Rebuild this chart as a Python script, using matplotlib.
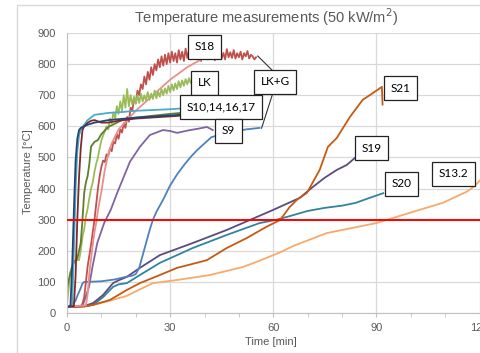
import numpy as np
import matplotlib
matplotlib.use("Agg")
import matplotlib.pyplot as plt
from matplotlib.patches import Rectangle

# ---- data (time in min, temperature in degC) ----
navy_t = [0, 1, 1.5, 2, 2.5, 3, 3.5, 4, 5, 6, 8, 12, 20, 30, 34]
navy_T = [20, 22, 150, 330, 490, 560, 588, 595, 600, 605, 612, 620, 628, 635, 638]

maroon_t = [0, 2, 2.5, 3, 3.5, 4, 4.5, 5, 6, 7, 8, 9, 10, 12, 15, 20, 30, 34]
maroon_T = [20, 22, 120, 300, 437, 530, 588, 600, 611, 618, 620, 616, 612, 612, 618, 625, 632, 635]

cyan_t = [0, 1.5, 2, 2.5, 3, 3.5, 4, 5, 6, 8, 10, 12, 16, 20, 30, 34]
cyan_T = [20, 25, 200, 400, 520, 570, 590, 605, 620, 637, 640, 643, 646, 650, 655, 658]

olive_t = [0, 1, 2, 2.5, 3, 4, 4.5, 5, 5.5, 6, 6.5, 7, 8, 9, 10, 12, 16, 20, 30, 35]
olive_T = [80, 130, 165, 170, 175, 225, 300, 386, 420, 440, 480, 535, 550, 556, 575, 598, 620, 628, 640, 645]

# LK, sampled every 0.5 min from t = 0
lk_T = [30, 80, 130, 150, 160, 165, 170, 170, 200, 245, 270, 310, 335, 370, 400, 420,
        455, 480, 500, 530, 555, 570, 585, 600, 590, 625, 610, 645, 625, 665, 640, 680,
        650, 700, 660, 720, 665, 700, 670, 695, 672, 700, 675, 705, 680, 700, 683, 710,
        685, 705, 688, 715, 690, 712, 695, 720, 700, 722, 705, 730, 710, 735, 715, 738,
        720, 745, 725, 748, 730, 752, 735, 755, 740]

# S18, sampled every 0.5 min from t = 0
s18_T = [20, 20, 20, 20, 20, 20, 21, 21, 22, 30, 50, 100, 150, 185, 220, 260,
         300, 350, 400, 440, 470, 490, 485, 510, 505, 530, 520, 550, 545, 575, 560, 590,
         580, 610, 595, 630, 615, 660, 650, 690, 675, 715, 700, 735, 720, 760, 735, 775,
         750, 790, 765, 800, 780, 815, 790, 825, 795, 830, 800, 835, 805, 840, 810, 835,
         805, 845, 815, 840, 810, 850, 820, 845, 815, 840, 820, 848, 815, 835, 810, 840,
         818, 835, 815, 842, 820, 838, 812, 845, 825, 840, 818, 836, 815, 848, 822, 838,
         820, 845, 818, 835, 822, 840, 815, 835, 825, 842, 818, 830, 825, 815, 822]

salmon_t = [0, 5.5, 6, 6.5, 7, 7.5, 8, 8.5, 9, 10, 11, 12, 13, 15, 20, 25, 30, 35, 39]
salmon_T = [20, 25, 60, 130, 175, 220, 260, 290, 330, 390, 460, 510, 545, 590, 650, 700, 750, 790, 815]

blue_t = [0, 1.5, 2.5, 3, 4, 4.5, 5, 6, 10, 14, 17, 19, 20, 21, 22, 23, 24, 25, 26, 28,
          30, 32, 34, 36, 38, 40, 42, 45, 48, 52, 56]
blue_T = [20, 25, 40, 55, 80, 95, 100, 100, 102, 108, 116, 120, 125, 145, 185, 225, 265, 300, 325, 365,
          410, 445, 475, 502, 525, 545, 565, 575, 582, 590, 595]

s9_t = [0, 4.5, 5.4, 6.4, 7.4, 8.8, 10.8, 12.7, 14.6, 16.6, 18.3, 21.2, 24.1, 27.9, 30, 32, 35.8, 38, 40.7, 42.4]
s9_T = [20, 22, 51, 84, 148, 225, 289, 331, 386, 440, 486, 534, 572, 588, 585, 579, 588, 592, 598, 588]

s19_t = [0, 5, 7.6, 10.5, 13.4, 15, 17.4, 21.2, 27, 36.6, 46.5, 53.2, 59.9, 67.7, 71.5, 75, 78.5, 81.4, 83.7]
s19_T = [20, 22, 32, 58, 96, 105, 116, 145, 186, 225, 267, 299, 331, 370, 405, 435, 460, 476, 498]

s20_t = [0, 5, 7.6, 10.5, 13.4, 15, 17.4, 21.2, 27, 36.6, 46.5, 56, 61, 65, 70, 75, 80, 84, 88, 92]
s20_T = [20, 22, 26, 51, 84, 92, 96, 122, 161, 209, 251, 289, 300, 312, 328, 338, 345, 354, 370, 385]

s21_t = [0, 5, 7.6, 12.5, 17.4, 21.2, 27, 32, 38.7, 40.7, 46.5, 52.3, 58, 62, 64.8, 67, 69.8,
         71.5, 73.5, 75.9, 78.5, 82.3, 86, 89, 91.6, 91.8]
s21_T = [20, 21, 26, 42, 74, 96, 122, 145, 164, 170, 209, 241, 277, 299, 341, 365, 386,
         420, 460, 534, 563, 630, 685, 707, 727, 670]

s132_t = [0, 5, 7.6, 12, 17.4, 21, 25, 32, 41.6, 51.2, 56, 62, 65.7, 75.6, 90, 99.7, 109.3, 116.3, 118.6, 120]
s132_T = [20, 21, 26, 38, 55, 75, 96, 106, 122, 148, 168, 195, 215, 257, 289, 322, 354, 390, 408, 425]

limit_T = 300

labels = ["S18", "LK", "LK+G", "S10,14,16,17", "S9", "S21", "S19", "S20", "S13.2"]
label_t = [40.1, 40.0, 60.5, 44.8, 47.0, 97.0, 88.7, 97.4, 112.5]
label_T = [855, 740, 743, 661, 585, 722, 530, 415, 447]

fig = plt.figure(figsize=(4.8, 3.53), dpi=100)
ax = fig.add_axes([67 / 480, 40 / 353, 412.5 / 480, 280 / 353])

lk_t = np.arange(len(lk_T)) * 0.5
s18_t = np.arange(len(s18_T)) * 0.5

lw = 1.3
ax.plot(s132_t, s132_T, color="#F8A96B", lw=lw)
ax.plot(s20_t, s20_T, color="#31849B", lw=lw)
ax.plot(s19_t, s19_T, color="#5C4B7F", lw=lw)
ax.plot(s21_t, s21_T, color="#C55A11", lw=lw)
ax.plot(blue_t, blue_T, color="#4F81BD", lw=lw)
ax.plot(s9_t, s9_T, color="#8064A2", lw=lw)
ax.plot(s18_t, s18_T, color="#C0504D", lw=lw)
ax.plot(salmon_t, salmon_T, color="#E8908C", lw=lw)
ax.plot(lk_t, lk_T, color="#9BBB59", lw=lw)
ax.plot(olive_t, olive_T, color="#5E7F2C", lw=lw)
ax.plot(cyan_t, cyan_T, color="#4BACC6", lw=lw)
ax.plot(maroon_t, maroon_T, color="#7F2A2A", lw=lw)
ax.plot(navy_t, navy_T, color="#264478", lw=lw)
ax.axhline(limit_T, color="#FF0000", lw=1.4, zorder=5)

# LK+G leader lines
ax.plot([59.9, 55.5], [778, 826], color="#333333", lw=0.8, zorder=6)
ax.plot([60.5, 56.6], [728, 594], color="#333333", lw=0.8, zorder=6)

for txt, t, T in zip(labels, label_t, label_T):
    ax.text(t, T, txt, ha="center", va="center", fontsize=8.5, family="Lato", zorder=7,
            bbox=dict(boxstyle="square,pad=0.55", fc="white", ec="#222222", lw=0.9))

ax.set_xlim(0, 120)
ax.set_ylim(0, 900)
ax.set_xticks([0, 30, 60, 90, 120])
ax.set_xticks(np.arange(0, 121, 10), minor=True)
ax.set_yticks(np.arange(0, 901, 100))
ax.grid(True, which="major", color="#D9D9D9", lw=0.9)
ax.set_axisbelow(True)
for s in ["top", "right"]:
    ax.spines[s].set_visible(False)
for s in ["left", "bottom"]:
    ax.spines[s].set_color("#BFBFBF")
ax.tick_params(axis="y", length=0, pad=8, labelsize=8, labelcolor="#595959")
ax.tick_params(axis="x", which="both", length=3, color="#BFBFBF", pad=4, labelsize=8, labelcolor="#595959")
for lab in ax.get_xticklabels() + ax.get_yticklabels():
    lab.set_family("Liberation Sans")

fig.text(266 / 480, 1 - 17 / 353, "Temperature measurements (50 kW/m$^2$)", ha="center", va="center",
         fontsize=10.5, color="#595959", family="Liberation Sans")
fig.text(28 / 480, 1 - 172 / 353, "Temperature [°C]", rotation=90, ha="center", va="center",
         fontsize=8, color="#595959", family="Liberation Sans")
fig.text(271 / 480, 1 - 342 / 353, "Time [min]", ha="center", va="center",
         fontsize=8, color="#595959", family="Liberation Sans")

fig.add_artist(Rectangle((17 / 480, -0.1), 1.0, 1.1 - 5 / 353, transform=fig.transFigure,
                         fill=False, ec="#D9D9D9", lw=1))

fig.savefig("out.png", dpi=100)
